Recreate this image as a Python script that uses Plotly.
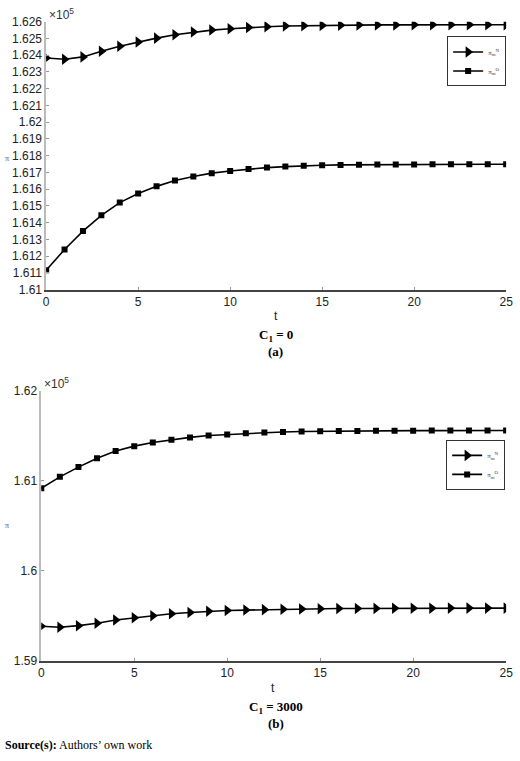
import plotly.graph_objects as go

t = list(range(26))

# values in units of 1e5
top_N = [1.62383, 1.62376, 1.62390, 1.62424, 1.62453, 1.62479, 1.62502, 1.62522, 1.62538, 1.62550,
         1.62558, 1.62565, 1.62570, 1.62574, 1.62576, 1.62578, 1.62579, 1.62580, 1.62581, 1.62581,
         1.62582, 1.62582, 1.62582, 1.62582, 1.62582, 1.62582]
top_O = [1.61116, 1.61240, 1.61350, 1.61444, 1.61520, 1.61574, 1.61617, 1.61652, 1.61676, 1.61696,
         1.61709, 1.61721, 1.61729, 1.61735, 1.61740, 1.61743, 1.61745, 1.61746, 1.61747, 1.61748,
         1.61748, 1.61749, 1.61749, 1.61749, 1.61749, 1.61749]
bot_N = [1.59384, 1.59373, 1.59390, 1.59417, 1.59453, 1.59478, 1.59500, 1.59522, 1.59536, 1.59550,
         1.59558, 1.59563, 1.59568, 1.59572, 1.59575, 1.59578, 1.59580, 1.59581, 1.59582, 1.59583,
         1.59584, 1.59584, 1.59585, 1.59585, 1.59585, 1.59585]
bot_O = [1.60916, 1.61044, 1.61152, 1.61250, 1.61330, 1.61385, 1.61425, 1.61457, 1.61482, 1.61504,
         1.61515, 1.61527, 1.61537, 1.61543, 1.61547, 1.61550, 1.61552, 1.61554, 1.61555, 1.61556,
         1.61557, 1.61558, 1.61558, 1.61559, 1.61559, 1.61559]

top_ticks = [1.61 + 0.001 * i for i in range(17)]
top_ticktext = ["1.61", "1.611", "1.612", "1.613", "1.614", "1.615", "1.616", "1.617", "1.618",
                "1.619", "1.62", "1.621", "1.622", "1.623", "1.624", "1.625", "1.626"]
bot_ticks = [1.59, 1.60, 1.61, 1.62]
bot_ticktext = ["1.59", "1.6", "1.61", "1.62"]
x_ticks = [0, 5, 10, 15, 20, 25]

name_N = "π<sub>m</sub><sup>N</sup>"
name_O = "π<sub>m</sub><sup>O</sup>"

W, H = 520, 761
def px(y):
    return 1 - y / H

fig = go.Figure()
line = dict(color="black", width=1.6)
fig.add_trace(go.Scatter(x=t, y=top_N, mode="lines+markers", name=name_N, line=line,
                         marker=dict(symbol="triangle-right", size=10, color="black"),
                         xaxis="x", yaxis="y", legend="legend"))
fig.add_trace(go.Scatter(x=t, y=top_O, mode="lines+markers", name=name_O, line=line,
                         marker=dict(symbol="square", size=6, color="black"),
                         xaxis="x", yaxis="y", legend="legend"))
fig.add_trace(go.Scatter(x=t, y=bot_N, mode="lines+markers", name=name_N, line=line,
                         marker=dict(symbol="triangle-right", size=10, color="black"),
                         xaxis="x2", yaxis="y2", legend="legend2"))
fig.add_trace(go.Scatter(x=t, y=bot_O, mode="lines+markers", name=name_O, line=line,
                         marker=dict(symbol="square", size=6, color="black"),
                         xaxis="x2", yaxis="y2", legend="legend2"))

tickfont = dict(family="Liberation Sans, Arial", size=12, color="#222")
common_x = dict(range=[0, 25], tickvals=x_ticks, ticks="inside", ticklen=3, tickcolor="#999",
                showline=True, linecolor="#444", linewidth=1.5, showgrid=False, zeroline=False,
                tickfont=tickfont)
common_y = dict(ticks="inside", ticklen=3, tickcolor="#999", showline=True, linecolor="#bbb",
                linewidth=1.5, showgrid=False, zeroline=False, tickfont=tickfont)

legend_style = dict(xanchor="right", yanchor="top", bordercolor="#333", borderwidth=1,
                    bgcolor="white", font=dict(family="Liberation Serif", size=7, color="#333"),
                    itemwidth=30, tracegroupgap=0)

fig.update_layout(
    width=W, height=H, margin=dict(l=0, r=0, t=0, b=0),
    paper_bgcolor="white", plot_bgcolor="white",
    xaxis=dict(domain=[44 / W, 513 / W], anchor="y", **common_x),
    yaxis=dict(domain=[px(288), px(15)], anchor="x", range=[1.61, 1.626],
               tickvals=top_ticks, ticktext=top_ticktext, **common_y),
    xaxis2=dict(domain=[39 / W, 513 / W], anchor="y2", **common_x),
    yaxis2=dict(domain=[px(666), px(391)], anchor="x2", range=[1.59, 1.62],
                tickvals=bot_ticks, ticktext=bot_ticktext, **common_y),
    legend=dict(x=513 / W, y=px(30), **legend_style),
    legend2=dict(x=512 / W, y=px(441), **legend_style),
    showlegend=True,
)

ann = []
serif_b = dict(family="Liberation Serif, Times New Roman", size=13, color="black")
def add(text, x, y, font, xanchor="center"):
    ann.append(dict(text=text, x=x / W, y=px(y), xref="paper", yref="paper",
                    showarrow=False, font=font, xanchor=xanchor, yanchor="middle"))

add("×10<sup>5</sup>", 45, 7, dict(family="Liberation Sans", size=12, color="#333"), "left")
add("×10<sup>5</sup>", 40, 383, dict(family="Liberation Sans", size=12, color="#333"), "left")
add("π", 4, 154, dict(family="Liberation Serif", size=8, color="#555"))
add("π", 4, 528, dict(family="Liberation Serif", size=8, color="#555"))
add("t", 278, 315, dict(family="Liberation Sans", size=12, color="#222"))
add("t", 275, 694, dict(family="Liberation Sans", size=12, color="#222"))
add("<b>C<sub>1</sub> = 0</b>", 278, 335, serif_b)
add("<b>(a)</b>", 278, 351, serif_b)
add("<b>C<sub>1</sub> = 3000</b>", 278, 714, serif_b)
add("<b>(b)</b>", 278, 730, serif_b)
add("<b>Source(s):</b> Authors’ own work", 0, 752,
    dict(family="Liberation Serif, Times New Roman", size=12, color="black"), "left")
fig.update_layout(annotations=ann)

fig.write_html("out.html", config={"displayModeBar": False},
               post_script="document.body.style.margin='0';document.body.style.overflow='hidden';")
